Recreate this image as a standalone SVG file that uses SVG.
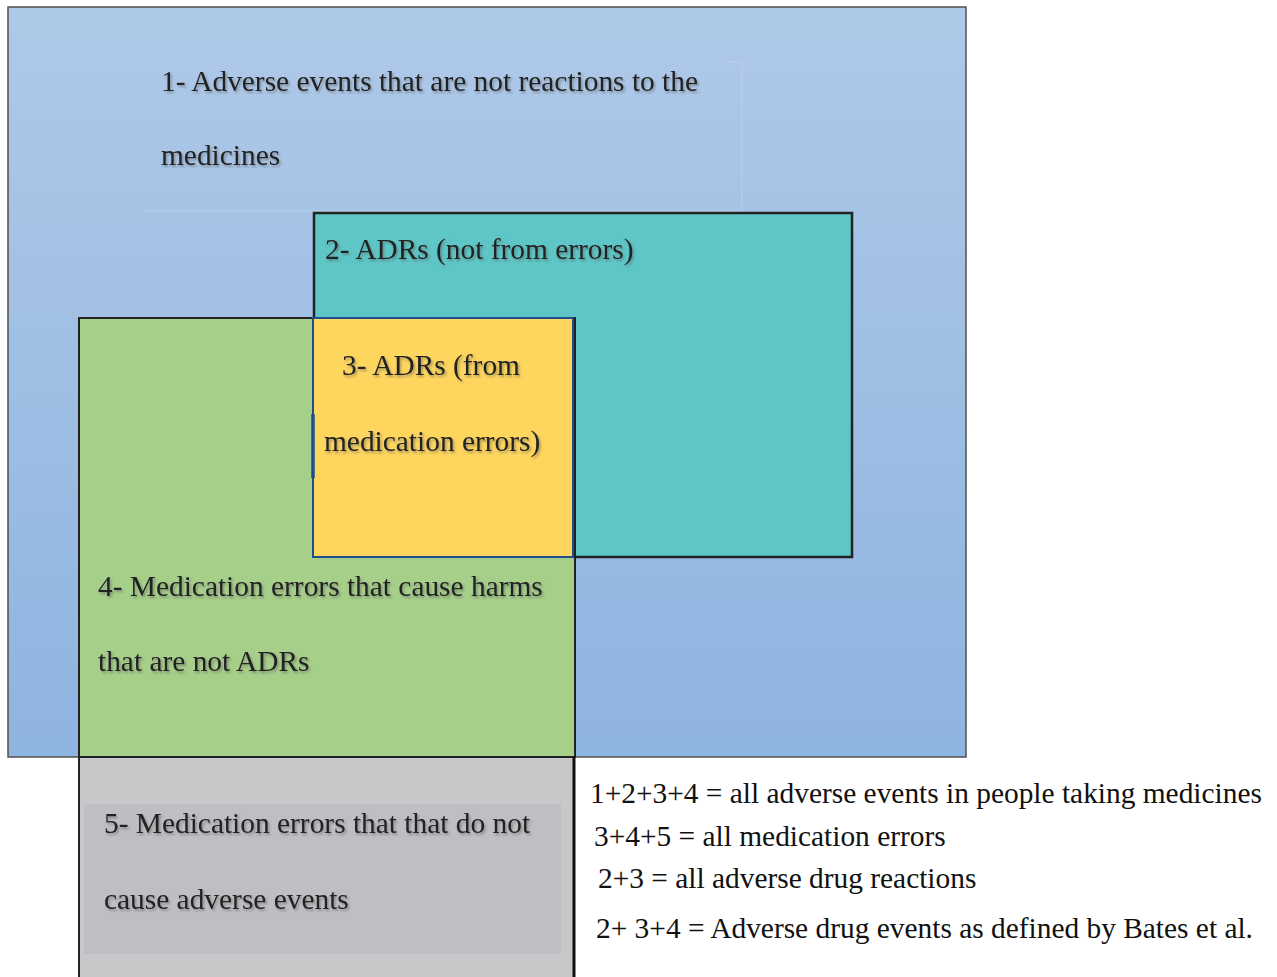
<svg xmlns="http://www.w3.org/2000/svg" width="1277" height="977" viewBox="0 0 1277 977">
<defs>
<linearGradient id="g1" x1="0" y1="0" x2="0" y2="1">
<stop offset="0" stop-color="#afc9e8"/>
<stop offset="1" stop-color="#8eb4e0"/>
</linearGradient>
<filter id="sh" x="-5%" y="-30%" width="110%" height="160%">
<feDropShadow dx="1.5" dy="2" stdDeviation="1" flood-color="#555" flood-opacity="0.5"/>
</filter>
</defs>
<style>
text{font-family:"Liberation Serif","Times New Roman",serif;font-size:29.4px;fill:#222}
.lbl{filter:url(#sh)}
.leg{fill:#111}
</style>
<rect width="1277" height="977" fill="#ffffff"/>
<g id="node1">
<rect x="8" y="7" width="958" height="750" fill="url(#g1)" stroke="#505050" stroke-width="1.5"/>
<path d="M141,211 H742 V62 H726" fill="none" stroke="#ffffff" stroke-opacity="0.2" stroke-width="1"/>
<text class="lbl" x="161" y="91">1- Adverse events that are not reactions to the</text>
<text class="lbl" x="161" y="165">medicines</text>
</g>
<g id="node2">
<rect x="314" y="213" width="538" height="344" fill="#5ec6c6" stroke="#222" stroke-width="2.5"/>
<text class="lbl" x="325" y="259">2- ADRs (not from errors)</text>
</g>
<g id="node4">
<rect x="79" y="318" width="496" height="439" fill="#a6cf8a" stroke="#222" stroke-width="2"/>
<text class="lbl" x="98" y="596">4- Medication errors that cause harms</text>
<text class="lbl" x="98" y="671">that are not ADRs</text>
</g>
<g id="node3">
<rect x="313" y="318" width="260" height="239" fill="#fed55d" stroke="#1f4e8e" stroke-width="2"/>
<line x1="313" y1="414" x2="313" y2="478" stroke="#1f4e8e" stroke-width="3.5"/>
<text class="lbl" x="342" y="375">3- ADRs (from</text>
<text class="lbl" x="324" y="451">medication errors)</text>
</g>
<g id="node5">
<path d="M79,990 V757 H574 V990" fill="#c7c8ca" stroke="#222" stroke-width="2"/>
<rect x="84" y="804" width="477" height="150" fill="#bebfc3"/>
<line x1="574" y1="757" x2="574" y2="977" stroke="#111" stroke-width="3"/>
<text class="lbl" x="104" y="833">5- Medication errors that that do not</text>
<text class="lbl" x="104" y="909">cause adverse events</text>
</g>
<g id="connectors"></g>
<g id="legend">
<text class="leg" x="590" y="803">1+2+3+4 = all adverse events in people taking medicines</text>
<text class="leg" x="594" y="846">3+4+5 = all medication errors</text>
<text class="leg" x="598" y="888">2+3 = all adverse drug reactions</text>
<text class="leg" x="596" y="938">2+ 3+4 = Adverse drug events as defined by Bates et al.</text>
</g>
</svg>
